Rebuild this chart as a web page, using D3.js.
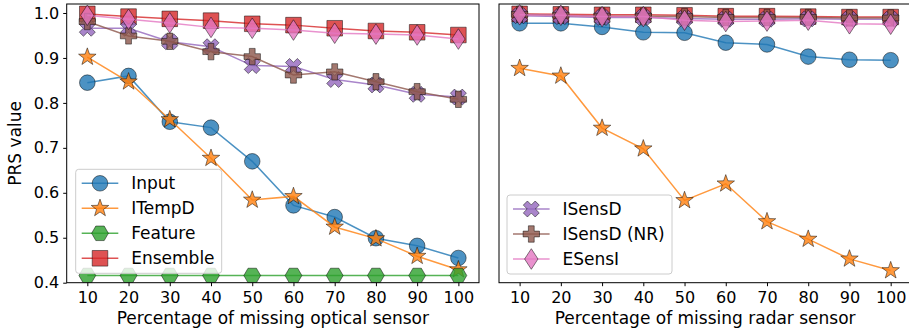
<!DOCTYPE html>
<html>
<head>
<meta charset="utf-8">
<script src="https://cdn.jsdelivr.net/npm/d3@7"></script>
<style>
  body { margin: 0; background: #fff; }
  svg { font-family: "DejaVu Sans", sans-serif; }
</style>
</head>
<body>
<svg id="chart" width="909" height="335"></svg>
<script>
// data
const missing = [10, 20, 30, 40, 50, 60, 70, 80, 90, 100];
const yTicks = [0.4, 0.5, 0.6, 0.7, 0.8, 0.9, 1.0];

// optical sensor (left panel)
const optInput    = [0.845, 0.860, 0.758, 0.745, 0.670, 0.572, 0.546, 0.499, 0.482, 0.455];
const optITempD   = [0.902, 0.847, 0.763, 0.677, 0.584, 0.592, 0.524, 0.498, 0.459, 0.429];
const optFeature  = [0.416, 0.416, 0.416, 0.416, 0.416, 0.416, 0.416, 0.416, 0.416, 0.416];
const optEnsemble = [0.998, 0.992, 0.987, 0.983, 0.976, 0.973, 0.966, 0.960, 0.957, 0.951];
const optISensD   = [0.966, 0.966, 0.936, 0.925, 0.883, 0.881, 0.852, 0.840, 0.819, 0.813];
const optISensDNR = [0.981, 0.949, 0.937, 0.914, 0.903, 0.862, 0.869, 0.847, 0.825, 0.808];
const optESensI   = [0.995, 0.986, 0.978, 0.968, 0.966, 0.962, 0.955, 0.953, 0.951, 0.942];

// radar sensor (right panel)
const radInput    = [0.977, 0.977, 0.969, 0.957, 0.956, 0.934, 0.930, 0.903, 0.896, 0.895];
const radITempD   = [0.877, 0.860, 0.744, 0.698, 0.583, 0.620, 0.536, 0.497, 0.453, 0.427];
const radEnsemble = [0.998, 0.997, 0.996, 0.996, 0.995, 0.993, 0.993, 0.992, 0.991, 0.991];
const radISensD   = [0.994, 0.992, 0.990, 0.990, 0.988, 0.986, 0.986, 0.987, 0.986, 0.986];
const radISensDNR = [0.997, 0.995, 0.993, 0.993, 0.992, 0.990, 0.990, 0.990, 0.989, 0.989];
const radESensI   = [0.996, 0.995, 0.992, 0.992, 0.984, 0.981, 0.982, 0.984, 0.976, 0.975];

const series = [
  {name: "Input",        color: "#1f77b4", marker: "circle"},
  {name: "ITempD",       color: "#ff7f0e", marker: "star"},
  {name: "Feature",      color: "#2ca02c", marker: "hexagon"},
  {name: "Ensemble",     color: "#d62728", marker: "square"},
  {name: "ISensD",       color: "#9467bd", marker: "x"},
  {name: "ISensD (NR)",  color: "#8c564b", marker: "plus"},
  {name: "ESensI",       color: "#e377c2", marker: "diamond"}
];

const panels = [
  {
    x0: 66.7, x1: 479, label: "Percentage of missing optical sensor", yAxis: true,
    values: {"Input": optInput, "ITempD": optITempD, "Feature": optFeature, "Ensemble": optEnsemble,
             "ISensD": optISensD, "ISensD (NR)": optISensDNR, "ESensI": optESensI},
    legend: {x: 75.7, y: 169.3, w: 146, h: 104, names: ["Input", "ITempD", "Feature", "Ensemble"]}
  },
  {
    x0: 499, x1: 911.3, label: "Percentage of missing radar sensor", yAxis: false,
    values: {"Input": radInput, "ITempD": radITempD, "Ensemble": radEnsemble,
             "ISensD": radISensD, "ISensD (NR)": radISensDNR, "ESensI": radESensI},
    legend: {x: 507, y: 195, w: 165, h: 79, names: ["ISensD", "ISensD (NR)", "ESensI"]}
  }
];

const plotTop = 4, plotBottom = 282.7;
const tickFont = 16, labelFont = 17;
const y = d3.scaleLinear().domain([0.4, 1.02]).range([plotBottom, plotTop]);

// marker shapes as path strings centred on 0,0
function markerPath(type) {
  const p = d3.path();
  if (type === "circle") {
    p.arc(0, 0, 7.8, 0, 2 * Math.PI);
  } else if (type === "square") {
    p.rect(-7.8, -7.8, 15.6, 15.6);
  } else if (type === "diamond") {
    p.moveTo(0, -10.3); p.lineTo(6.7, 0); p.lineTo(0, 10.3); p.lineTo(-6.7, 0); p.closePath();
  } else if (type === "hexagon") {
    for (let i = 0; i < 6; i++) {
      const a = i * Math.PI / 3;
      const px = 8.4 * Math.cos(a), py = 8.4 * Math.sin(a);
      i === 0 ? p.moveTo(px, py) : p.lineTo(px, py);
    }
    p.closePath();
  } else if (type === "star") {
    for (let i = 0; i < 10; i++) {
      const r = i % 2 === 0 ? 9.2 : 3.7;
      const a = -Math.PI / 2 + i * Math.PI / 5;
      const px = r * Math.cos(a), py = r * Math.sin(a);
      i === 0 ? p.moveTo(px, py) : p.lineTo(px, py);
    }
    p.closePath();
  } else if (type === "plus") {
    const a = 2.9, b = 8.2;
    const pts = [[-a,-b],[a,-b],[a,-a],[b,-a],[b,a],[a,a],[a,b],[-a,b],[-a,a],[-b,a],[-b,-a],[-a,-a]];
    pts.forEach((q, i) => i === 0 ? p.moveTo(q[0], q[1]) : p.lineTo(q[0], q[1]));
    p.closePath();
  } else if (type === "x") {
    const a = 2.9, b = 8.4;
    const pts = [[-a,-b],[a,-b],[a,-a],[b,-a],[b,a],[a,a],[a,b],[-a,b],[-a,a],[-b,a],[-b,-a],[-a,-a]];
    const c = Math.SQRT1_2;
    pts.forEach((q, i) => {
      const px = (q[0] - q[1]) * c, py = (q[0] + q[1]) * c;
      i === 0 ? p.moveTo(px, py) : p.lineTo(px, py);
    });
    p.closePath();
  }
  return p.toString();
}

const svg = d3.select("#chart");

panels.forEach((panel, pi) => {
  const x = d3.scaleLinear().domain([5, 105]).range([panel.x0, panel.x1]);
  const g = svg.append("g");

  const clipId = "clip" + pi;
  svg.append("clipPath").attr("id", clipId)
    .append("rect").attr("x", panel.x0).attr("y", plotTop)
    .attr("width", panel.x1 - panel.x0).attr("height", plotBottom - plotTop);

  const plot = g.append("g").attr("clip-path", "url(#" + clipId + ")");

  series.forEach(s => {
    const vals = panel.values[s.name];
    if (!vals) return;
    const pts = missing.map((m, i) => [m, vals[i]]);
    const line = d3.line().x(d => x(d[0])).y(d => y(d[1]));
    plot.append("path")
      .attr("d", line(pts))
      .attr("fill", "none")
      .attr("stroke", s.color)
      .attr("stroke-opacity", 0.8)
      .attr("stroke-width", 1.5);
    plot.selectAll(null)
      .data(pts)
      .enter()
      .append("path")
      .attr("d", markerPath(s.marker))
      .attr("transform", d => "translate(" + x(d[0]) + "," + y(d[1]) + ")")
      .attr("fill", s.color)
      .attr("fill-opacity", 0.8)
      .attr("stroke", "#000")
      .attr("stroke-opacity", 0.6)
      .attr("stroke-width", 0.8);
  });

  // x axis
  const xAxis = g.append("g")
    .attr("transform", "translate(0," + plotBottom + ")")
    .call(d3.axisBottom(x).tickValues(missing).tickSize(3.5).tickPadding(5.4).tickSizeOuter(0));
  xAxis.select(".domain").remove();
  xAxis.selectAll("text").attr("font-size", tickFont).attr("fill", "#000").attr("font-family", "DejaVu Sans");

  if (panel.yAxis) {
    const yAxis = g.append("g")
      .attr("transform", "translate(" + panel.x0 + ",0)")
      .call(d3.axisLeft(y).tickValues(yTicks).tickFormat(d3.format(".1f")).tickSize(3.5).tickPadding(4).tickSizeOuter(0));
    yAxis.select(".domain").remove();
    yAxis.selectAll("text").attr("font-size", tickFont).attr("fill", "#000").attr("font-family", "DejaVu Sans");
    g.append("text")
      .attr("transform", "translate(20.5," + ((plotTop + plotBottom) / 2) + ") rotate(-90)")
      .attr("text-anchor", "middle")
      .attr("font-size", labelFont)
      .text("PRS value");
  }

  // frame
  g.append("rect")
    .attr("x", panel.x0).attr("y", plotTop)
    .attr("width", panel.x1 - panel.x0).attr("height", plotBottom - plotTop)
    .attr("fill", "none").attr("stroke", "#000").attr("stroke-width", 1);

  g.append("text")
    .attr("x", (panel.x0 + panel.x1) / 2)
    .attr("y", 324)
    .attr("text-anchor", "middle")
    .attr("font-size", labelFont)
    .text(panel.label);

  // legend
  const lg = panel.legend;
  const leg = g.append("g").attr("transform", "translate(" + lg.x + "," + lg.y + ")");
  leg.append("rect")
    .attr("width", lg.w).attr("height", lg.h).attr("rx", 3)
    .attr("fill", "#fff").attr("fill-opacity", 0.8)
    .attr("stroke", "#ccc").attr("stroke-width", 1);
  lg.names.forEach((name, i) => {
    const s = series.find(d => d.name === name);
    const cy = 14 + i * 25;
    leg.append("line")
      .attr("x1", 6).attr("x2", 42.6).attr("y1", cy).attr("y2", cy)
      .attr("stroke", s.color).attr("stroke-opacity", 0.8).attr("stroke-width", 1.5);
    leg.append("path")
      .attr("d", markerPath(s.marker))
      .attr("transform", "translate(24.3," + cy + ")")
      .attr("fill", s.color).attr("fill-opacity", 0.8)
      .attr("stroke", "#000").attr("stroke-opacity", 0.6).attr("stroke-width", 0.8);
    leg.append("text")
      .attr("x", 55.5).attr("y", cy)
      .attr("dy", "0.36em")
      .attr("font-size", labelFont)
      .text(name);
  });
});
</script>
</body>
</html>
